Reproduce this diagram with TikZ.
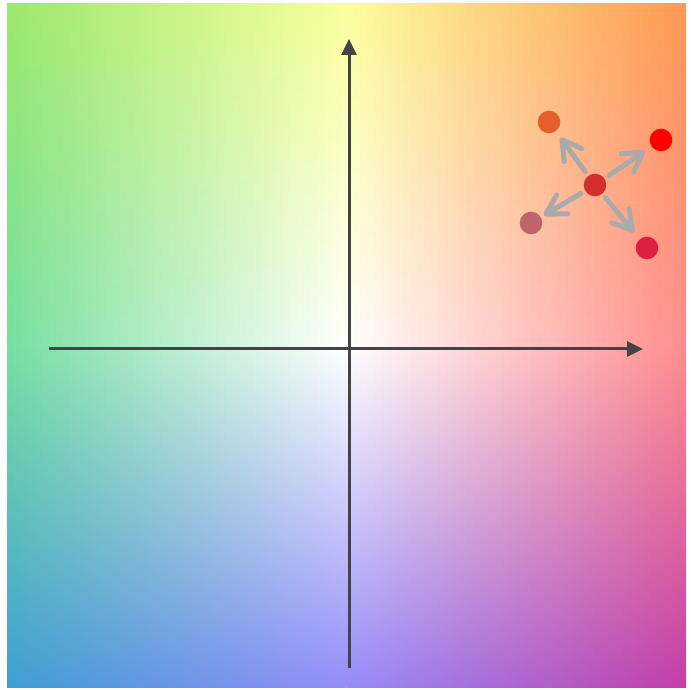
\documentclass[tikz,border=0pt]{standalone}
\usetikzlibrary{arrows.meta}

\definecolor{tlgreen}{RGB}{155,232,108}
\definecolor{tmyellow}{RGB}{250,255,155}
\definecolor{trorange}{RGB}{255,152,82}
\definecolor{lmmint}{RGB}{118,222,160}
\definecolor{rmpink}{RGB}{255,142,142}
\definecolor{blteal}{RGB}{62,158,210}
\definecolor{bmblue}{RGB}{148,140,250}
\definecolor{brmagenta}{RGB}{195,62,168}
\definecolor{axisgray}{RGB}{68,68,68}
\definecolor{vecgray}{RGB}{170,170,170}
\definecolor{centrered}{RGB}{211,47,47}
\definecolor{uporange}{RGB}{228,96,42}
\definecolor{purered}{RGB}{255,0,0}
\definecolor{dustyrose}{RGB}{192,100,108}
\definecolor{crimson}{RGB}{224,30,66}

\begin{document}
\begin{tikzpicture}[x=1pt, y=1pt,
        axis/.style={draw=axisgray, line width=3pt, -{Triangle[length=16pt, width=15pt]}},
        dot/.style={circle, inner sep=0pt, minimum size=22.6pt},
        vec/.style={draw=vecgray, line width=5pt, line cap=round, shorten <=5pt, -{Straight Barb[length=19pt, width=22pt, round]}}]

    \useasboundingbox (0,0) rectangle (691,690);

    % Colour field: vertical strips, each shaded top/middle/bottom,
    % colours mixed across from a 3x3 grid
    \foreach \i in {0,...,47} {
        \pgfmathsetmacro{\w}{100*(\i+0.5)/48}
        \pgfmathsetmacro{\xl}{7+\i*7.0729}
        \pgfmathsetmacro{\xr}{346.5+\i*7.0729}
        \shade[top color=tmyellow!\w!tlgreen, bottom color=bmblue!\w!blteal, middle color=white!\w!lmmint]
            (\xl,2) rectangle ({min(\xl+7.6,346.5)},686);
        \shade[top color=trorange!\w!tmyellow, bottom color=brmagenta!\w!bmblue, middle color=rmpink!\w!white]
            (\xr,2) rectangle ({min(\xr+7.6,686)},686);
    }

    % Axes
    \coordinate (xfrom) at (49,341);
    \coordinate (xto) at (643,341);
    \coordinate (yfrom) at (349,22);
    \coordinate (yto) at (349,651);
    \draw[axis] (xfrom) -- (xto);
    \draw[axis] (yfrom) -- (yto);

    % Points
    \node[dot, fill=centrered] (mid) at (595,505) {};
    \node[dot, fill=uporange] (upleft) at (549,568) {};
    \node[dot, fill=purered] (upright) at (661,550) {};
    \node[dot, fill=dustyrose] (downleft) at (531,467) {};
    \node[dot, fill=crimson] (downright) at (647,442) {};

    \draw[vec, shorten >=8pt] (mid) -- (upleft);
    \draw[vec, shorten >=7.6pt] (mid) -- (upright);
    \draw[vec, shorten >=3.4pt] (mid) -- (downleft);
    \draw[vec, shorten >=8.7pt] (mid) -- (downright);

\end{tikzpicture}
\end{document}
